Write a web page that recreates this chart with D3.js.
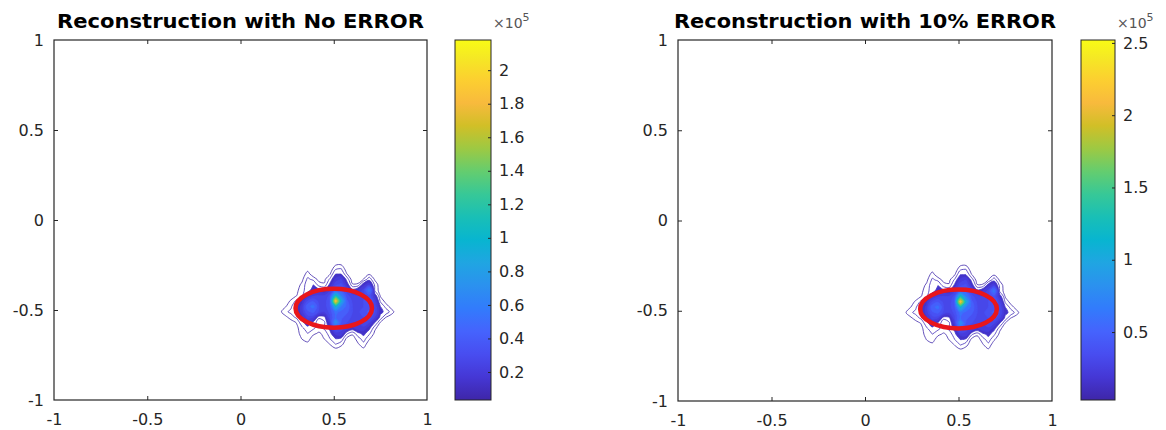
<!DOCTYPE html>
<html>
<head>
<meta charset="utf-8">
<script src="https://cdn.jsdelivr.net/npm/d3@7"></script>
<style>
body { margin: 0; background: #fff; }
svg { display: block; font-family: "DejaVu Sans", sans-serif; }
</style>
</head>
<body>
<svg id="fig" width="1166" height="430"></svg>
<script>
// axis ticks (both panels, both axes)
var axisTicks = [-1, -0.5, 0, 0.5, 1];
var titles = ['Reconstruction with No ERROR', 'Reconstruction with 10% ERROR'];

// colour limits of each panel (x10^5)
var cRange = [[0.033, 2.18], [0.03, 2.52]];
var cbTicks = [
	[0.2, 0.4, 0.6, 0.8, 1, 1.2, 1.4, 1.6, 1.8, 2],
	[0.5, 1, 1.5, 2, 2.5]
];
var cbLabels = [
	['0.2', '0.4', '0.6', '0.8', '1', '1.2', '1.4', '1.6', '1.8', '2'],
	['0.5', '1', '1.5', '2', '2.5']
];

// reconstructed intensity, % of colour max
// grid starts at x = 0.21, y = -0.21, step 0.03 (rows go downwards)
var gridX0 = 0.21, gridY0 = -0.21, gridStep = 0.03;
var intensity = [
	[0,   0,   0,   0,   0,   0,   0,   0,   0,   0,   0,   0,   0,   0,   0,   0,   0,   0,   0,   0,   0,   0],
	[0,   0,   0,   0,   0,   0,   0,   0,   0,   0,   0.6, 0.6, 0,   0,   0,   0,   0,   0,   0,   0,   0,   0],
	[0,   0,   0,   0,   0,   0.5, 0,   0,   0,   0,   3,   3.5, 0,   0,   0,   0,   0,   0,   0,   0,   0,   0],
	[0,   0,   0,   0,   0,   2.5, 0,   0,   0,   1.3, 6,   6,   1.6, 0,   0,   0,   1.2, 0.3, 0,   0,   0,   0],
	[0,   0,   0,   0,   1,   4,   3,   0.8, 1,   4,   10,  12,  5,   0.3, 0,   1.6, 5,   1.2, 0,   0,   0,   0],
	[0,   0,   0,   0.5, 2,   5,   6,   2.5, 1.8, 7,   14,  16,  8,   1.8, 2,   8,   11,  3,   0.3, 0,   0,   0],
	[0,   0,   0,   1,   2.5, 5,   7,   7,   6,   11,  20,  20,  13,  7,   9,   13,  28,  3,   0.5, 0,   0,   0],
	[0,   0,   0.3, 1.4, 3,   8,   11,  12,  12,  16,  50,  30,  16,  13,  12,  14,  17,  8,   1.2, 0.2, 0,   0],
	[0,   0.3, 1.8, 4,   8,   15,  18,  14,  13,  18,  92,  44,  20,  14,  13,  15,  20,  12,  3,   0.6, 0,   0],
	[0.2, 1.2, 3,   6,   10,  22,  26,  15,  13,  18,  46,  30,  22,  15,  14,  15,  17,  14,  6,   2.5, 0.5, 0],
	[0.8, 3,   4,   6,   10,  18,  20,  14,  12,  16,  26,  22,  20,  15,  14,  17,  20,  15,  7,   5,   2.5, 0],
	[0,   0.8, 2.5, 4,   8,   13,  12,  4,   5,   14,  24,  20,  17,  14,  13,  15,  17,  12,  5,   1.5, 0.3, 0],
	[0,   0,   0.3, 1.6, 5,   8,   5,   2,   3,   10,  36,  18,  15,  12,  12,  14,  12,  6,   1.2, 0.2, 0,   0],
	[0,   0,   0,   0.8, 3,   5,   4,   2.5, 4,   7,   18,  13,  11,  8,   11,  11,  7,   2,   0.3, 0,   0,   0],
	[0,   0,   0,   0.5, 2.5, 3.5, 2,   1.2, 2,   5,   10,  11,  4,   2,   5,   7,   4,   1,   0,   0,   0,   0],
	[0,   0,   0,   0,   1.6, 2.5, 0.3, 0.3, 1.6, 3.5, 6,   5,   0.8, 0.3, 2.5, 4.5, 1.8, 0,   0,   0,   0,   0],
	[0,   0,   0,   0,   0.3, 0.8, 0,   0,   0,   1.6, 3.5, 2.2, 0,   0,   1.2, 2.8, 0,   0,   0,   0,   0,   0],
	[0,   0,   0,   0,   0,   0,   0,   0,   0,   0,   0.8, 0,   0,   0,   0,   0.9, 0,   0,   0,   0,   0,   0],
	[0,   0,   0,   0,   0,   0,   0,   0,   0,   0,   0,   0,   0,   0,   0,   0,   0,   0,   0,   0,   0,   0]
];
// contour levels, % of colour max
var levels = [1.5, 3.5, 6, 9, 12, 15, 19, 24, 30, 36, 44, 52, 62, 72, 84];
var fillFrom = 6;

// true source ring (red ellipse)
var ringCenter = [0.5, -0.49];
var ringRadii = [0.205, 0.108];

// parula colormap samples (entries 1,5,9,...,61,64 of 64)
var parula = ['#3e26a8', '#4537d5', '#484df0', '#4563fd', '#327bfc', '#2b91ef', '#20a5e2', '#08b5d0',
	'#19bfb6', '#37c897', '#64cd6f', '#9dc943', '#d1bf27', '#f8ba3d', '#fccf30', '#f5e924', '#f9fb15'];
var parulaPos = [0, 4, 8, 12, 16, 20, 24, 28, 32, 36, 40, 44, 48, 52, 56, 60, 63].map(function (d) { return d / 63; });

var svg = d3.select('#fig');
var ink = '#262626';

// layout of each panel
var panels = [
	{ box: [54, 427, 40, 400], cb: [455, 491] },
	{ box: [678, 1052, 40, 401], cb: [1081, 1115] }
];

// gradient for colorbars
var grad = svg.append('defs').append('linearGradient')
	.attr('id', 'parula')
	.attr('x1', 0).attr('y1', 1).attr('x2', 0).attr('y2', 0);
grad.selectAll('stop')
	.data(parula)
	.enter()
	.append('stop')
	.attr('offset', function (d, i) { return parulaPos[i]; })
	.attr('stop-color', function (d) { return d; });

panels.forEach(function (pn, p) {
	var box = pn.box;
	var cmin = cRange[p][0], cmax = cRange[p][1];
	var x = d3.scaleLinear().domain([-1, 1]).range([box[0], box[1]]);
	var y = d3.scaleLinear().domain([-1, 1]).range([box[3], box[2]]);
	var color = d3.scaleLinear()
		.domain(parulaPos.map(function (t) { return cmin + t * (cmax - cmin); }))
		.range(parula)
		.clamp(true);

	var g = svg.append('g');

	// contours
	var rows = intensity.length, cols = intensity[0].length;
	var values = [];
	intensity.forEach(function (r) { r.forEach(function (v) { values.push(v / 100 * cmax); }); });
	var contours = d3.contours()
		.size([cols, rows])
		.thresholds(levels.map(function (l) { return l / 100 * cmax; }))(values);

	var line = d3.line()
		.x(function (d) { return x(gridX0 + (d[0] - 0.5) * gridStep); })
		.y(function (d) { return y(gridY0 - (d[1] - 0.5) * gridStep); })
		.curve(d3.curveCatmullRomClosed);

	function contourPath (c) {
		return c.coordinates.map(function (poly) {
			return poly.map(function (ring) { return line(ring.slice(0, -1)); }).join('');
		}).join('');
	}

	g.selectAll('path.level')
		.data(contours)
		.enter()
		.append('path')
		.attr('class', 'level')
		.attr('d', contourPath)
		.attr('fill-rule', 'evenodd')
		.attr('fill', function (d) { return d.value >= fillFrom / 100 * cmax - 1e-9 ? color(d.value) : 'none'; })
		.attr('stroke', function (d) { return color(d.value); })
		.attr('stroke-width', 0.8);

	// red ring
	g.append('ellipse')
		.attr('cx', x(ringCenter[0]))
		.attr('cy', y(ringCenter[1]))
		.attr('rx', x(ringCenter[0] + ringRadii[0]) - x(ringCenter[0]))
		.attr('ry', y(ringCenter[1] - ringRadii[1]) - y(ringCenter[1]))
		.attr('fill', 'none')
		.attr('stroke', '#e8161c')
		.attr('stroke-width', 4.5);

	// axes with inward ticks
	var ax = [
		{ a: d3.axisBottom(x), t: 'translate(0,' + box[3] + ')', lab: true },
		{ a: d3.axisTop(x), t: 'translate(0,' + box[2] + ')', lab: false },
		{ a: d3.axisLeft(y), t: 'translate(' + box[0] + ',0)', lab: true },
		{ a: d3.axisRight(y), t: 'translate(' + box[1] + ',0)', lab: false }
	];
	ax.forEach(function (o, k) {
		o.a.tickValues(axisTicks)
			.tickSizeInner(-4)
			.tickSizeOuter(0)
			.tickPadding(k == 0 ? 14 : 10)
			.tickFormat(o.lab ? function (d) { return String(d); } : '');
		var ag = g.append('g').attr('transform', o.t).call(o.a);
		ag.select('.domain').remove();
		ag.selectAll('line').attr('stroke', ink);
		ag.selectAll('text').attr('fill', ink).attr('font-size', '16px').attr('font-family', '"DejaVu Sans", sans-serif');
		ag.selectAll('.tick').filter(function (d) { return d == -1 || d == 1; }).select('line').remove();
	});

	g.append('rect')
		.attr('x', box[0]).attr('y', box[2])
		.attr('width', box[1] - box[0]).attr('height', box[3] - box[2])
		.attr('fill', 'none')
		.attr('stroke', ink)
		.attr('stroke-width', 1.2);

	// title
	g.append('text')
		.attr('x', (box[0] + box[1]) / 2)
		.attr('y', 28)
		.attr('text-anchor', 'middle')
		.attr('font-size', '19px')
		.attr('font-weight', 'bold')
		.attr('fill', '#000')
		.attr('textLength', p == 0 ? 367 : 382)
		.attr('lengthAdjust', 'spacingAndGlyphs')
		.text(titles[p]);

	// colorbar
	var cb = pn.cb;
	var cy = d3.scaleLinear().domain([cmin, cmax]).range([400, 40]);
	g.append('rect')
		.attr('x', cb[0]).attr('y', 40)
		.attr('width', cb[1] - cb[0]).attr('height', 360)
		.attr('fill', 'url(#parula)')
		.attr('stroke', ink)
		.attr('stroke-width', 1);
	var cAxis = d3.axisRight(cy)
		.tickValues(cbTicks[p])
		.tickFormat(function (d, i) { return cbLabels[p][i]; })
		.tickSizeInner(-3)
		.tickSizeOuter(0)
		.tickPadding(8);
	var cg = g.append('g').attr('transform', 'translate(' + cb[1] + ',0)').call(cAxis);
	cg.select('.domain').remove();
	cg.selectAll('line').attr('stroke', ink);
	cg.selectAll('text').attr('fill', ink).attr('font-size', '16px').attr('font-family', '"DejaVu Sans", sans-serif');

	var ex = g.append('text')
		.attr('x', cb[1] + 2)
		.attr('y', 28)
		.attr('fill', '#555')
		.attr('font-size', '14px');
	ex.append('tspan').text('\u00d710');
	ex.append('tspan').attr('dy', -7).attr('font-size', '11px').text('5');
});
</script>
</body>
</html>
